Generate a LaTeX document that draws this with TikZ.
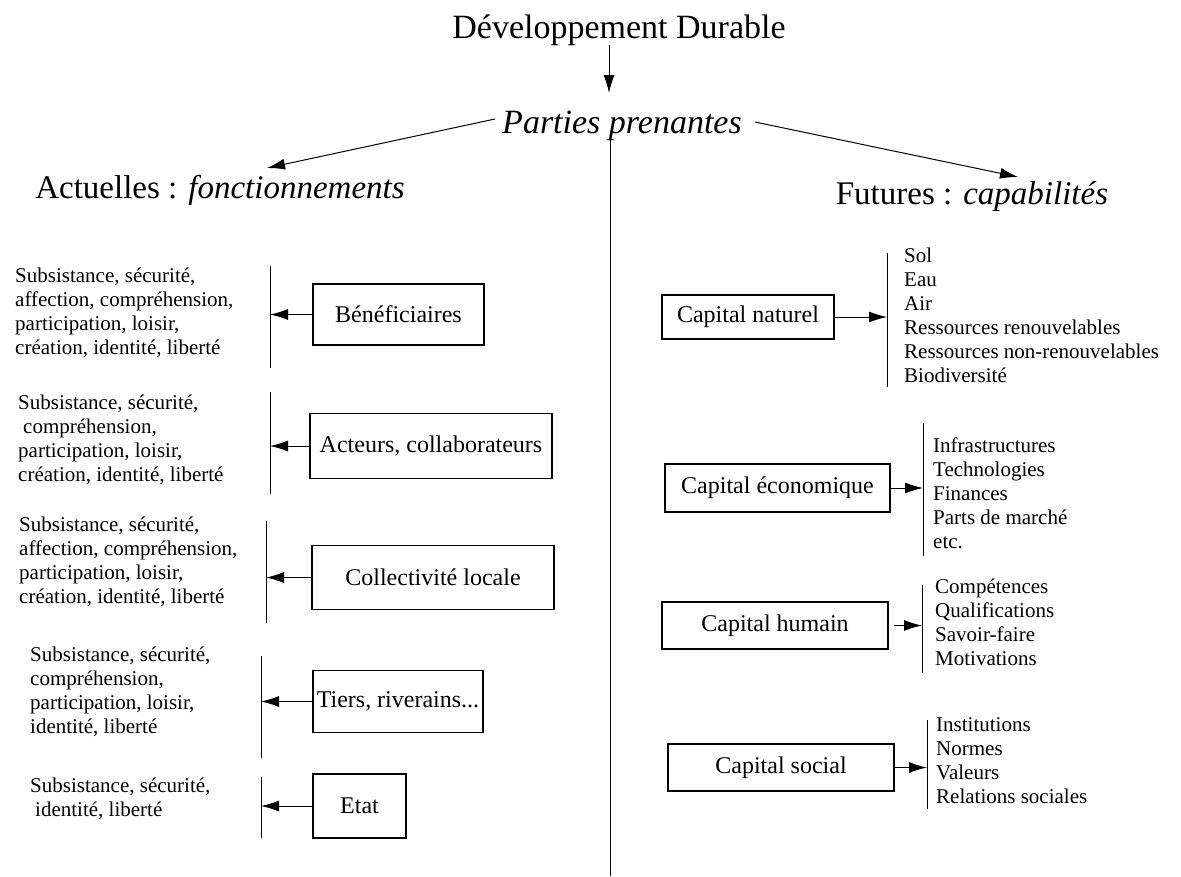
\documentclass[tikz,border=0pt]{standalone}
\usepackage{fontspec}
\setmainfont{Liberation Serif}
\usetikzlibrary{arrows.meta}
\begin{document}
\begin{tikzpicture}[x=1pt,y=-1pt,
  ln/.style={line width=1pt},
  arr/.style={line width=1pt,-{Latex[length=18pt,width=11pt]}},
  box/.style={draw,line width=1.1pt,inner sep=0pt,font=\fontsize{24}{28}\selectfont},
  lst/.style={inner sep=0pt,align=left,anchor=west,font=\fontsize{21}{24}\selectfont},
  big/.style={inner sep=0pt,font=\fontsize{34}{40}\selectfont},
  head/.style={inner sep=0pt,font=\fontsize{33}{40}\selectfont}]
\useasboundingbox (0,0) rectangle (1181,876);

% top
\node[big] (title) at (619,30) {Développement Durable};
\node[big] (pp) at (622,126) {\itshape Parties prenantes};
\node[head] (act) at (220,190) {Actuelles : \textit{fonctionnements}};
\node[head] (fut) at (972,197) {Futures : \textit{capabilités}};
\coordinate (t1) at (609,45);
\coordinate (t2) at (609,93);
\coordinate (l1) at (495,119);
\coordinate (l2) at (267,168);
\coordinate (r1) at (755,122);
\coordinate (r2) at (1018,177);
\coordinate (v1) at (610,138);
\coordinate (v2) at (610,876);
\draw[arr] (t1) -- (t2);
\draw[arr] (l1) -- (l2);
\draw[arr] (r1) -- (r2);
\draw[ln] (v1) -- (v2);

% left column
\node[lst] (tx1) at (15,313) {Subsistance, sécurité,\\affection, compréhension,\\participation, loisir,\\création, identité, liberté};
\coordinate (b1t) at (270,266); \coordinate (b1b) at (270,368);
\node[box,minimum width=171pt,minimum height=61pt] (ben) at (398.5,314.5) {Bénéficiaires};
\draw[ln] (b1t) -- (b1b);
\draw[arr] (ben.west) -- (b1t |- ben.west);

\node[lst] (tx2) at (18,440) {Subsistance, sécurité,\\\hspace{5pt}compréhension,\\participation, loisir,\\création, identité, liberté};
\coordinate (b2t) at (270,392); \coordinate (b2b) at (270,494);
\node[box,minimum width=242pt,minimum height=65pt] (act2) at (431,446) {Acteurs, collaborateurs};
\draw[ln] (b2t) -- (b2b);
\draw[arr] (act2.west) -- (b2t |- act2.west);

\node[lst] (tx3) at (19,562) {Subsistance, sécurité,\\affection, compréhension,\\participation, loisir,\\création, identité, liberté};
\coordinate (b3t) at (266,521); \coordinate (b3b) at (266,623);
\node[box,minimum width=242pt,minimum height=64pt] (col) at (433,577.5) {Collectivité locale};
\draw[ln] (b3t) -- (b3b);
\draw[arr] (col.west) -- (b3t |- col.west);

\node[lst] (tx4) at (30,692) {Subsistance, sécurité,\\compréhension,\\participation, loisir,\\identité, liberté};
\coordinate (b4t) at (261,656); \coordinate (b4b) at (261,758);
\node[box,minimum width=170pt,minimum height=62pt] (tie) at (398,701.5) {Tiers, riverains...};
\draw[ln] (b4t) -- (b4b);
\draw[arr] (tie.west) -- (b4t |- tie.west);

\node[lst] (tx5) at (30,799) {Subsistance, sécurité,\\\hspace{5pt}identité, liberté};
\coordinate (b5t) at (261,777); \coordinate (b5b) at (261,838);
\node[box,minimum width=93pt,minimum height=64pt] (eta) at (359.5,806) {Etat};
\draw[ln] (b5t) -- (b5b);
\draw[arr] (eta.west) -- (b5t |- eta.west);

% right column
\node[box,minimum width=172pt,minimum height=44pt] (nat) at (748,317) {Capital naturel};
\coordinate (c1t) at (887,253); \coordinate (c1b) at (887,387);
\draw[ln] (c1t) -- (c1b);
\draw[arr] (nat.east) -- (c1t |- nat.east);
\node[lst] (ls1) at (904,315) {Sol\\Eau\\Air\\Ressources renouvelables\\Ressources non-renouvelables\\Biodiversité};

\node[box,minimum width=225pt,minimum height=48pt] (eco) at (777.5,488) {Capital économique};
\coordinate (c2t) at (923,423); \coordinate (c2b) at (923,556);
\draw[ln] (c2t) -- (c2b);
\draw[arr] (eco.east) -- (c2t |- eco.east);
\node[lst] (ls2) at (933,493) {Infrastructures\\Technologies\\Finances\\Parts de marché\\etc.};

\node[box,minimum width=226pt,minimum height=47pt] (hum) at (775,625.5) {Capital humain};
\coordinate (c3t) at (922,585); \coordinate (c3b) at (922,673);
\draw[ln] (c3t) -- (c3b);
\draw[arr] ([xshift=5pt]hum.east) -- (c3t |- hum.east);
\node[lst] (ls3) at (935,622) {Compétences\\Qualifications\\Savoir-faire\\Motivations};

\node[box,minimum width=226pt,minimum height=47pt] (soc) at (781,767.5) {Capital social};
\coordinate (c4t) at (927,720); \coordinate (c4b) at (927,809);
\draw[ln] (c4t) -- (c4b);
\draw[arr] (soc.east) -- (c4t |- soc.east);
\node[lst] (ls4) at (936,761) {Institutions\\Normes\\Valeurs\\Relations sociales};
\end{tikzpicture}
\end{document}
